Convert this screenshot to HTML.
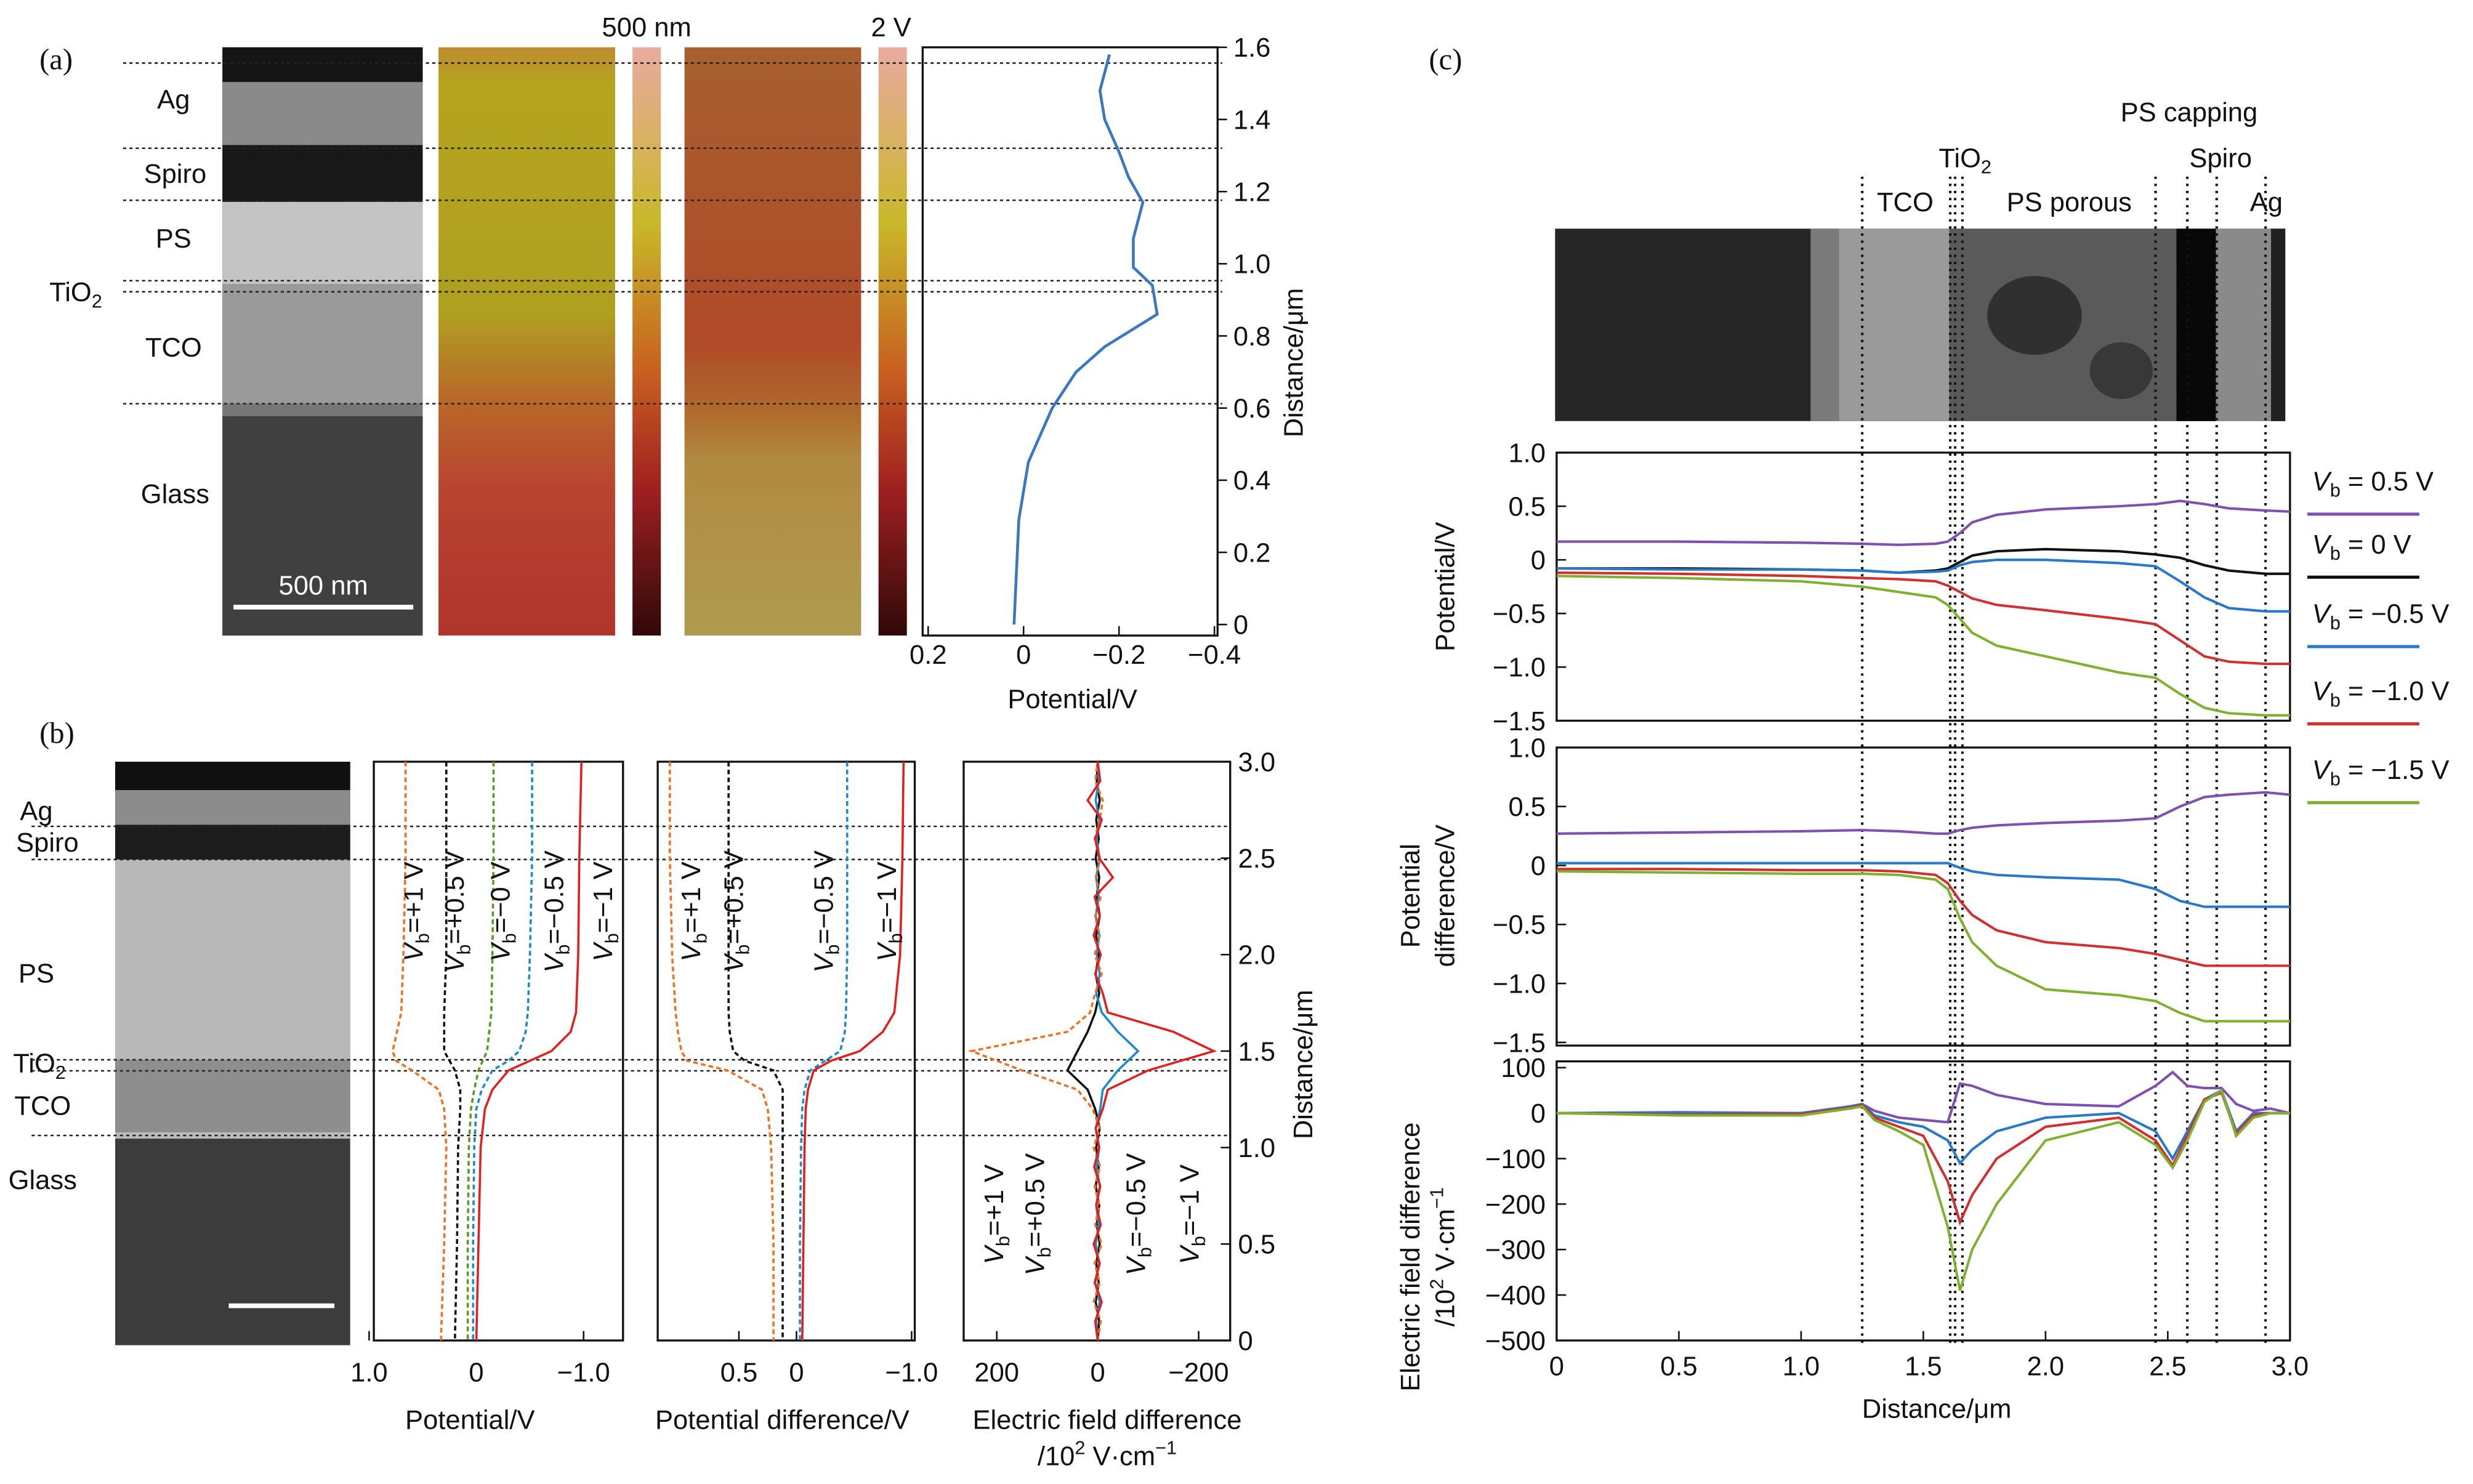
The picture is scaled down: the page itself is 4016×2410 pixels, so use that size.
<!DOCTYPE html>
<html><head><meta charset="utf-8"><style>
html,body{margin:0;padding:0;background:#fff}
svg{display:block}
text{font-family:"Liberation Sans",sans-serif;fill:#111}
.t{font-size:17px}
.s{font-family:"Liberation Serif",serif;font-size:19px}
</style></head><body>
<svg id="fig" xmlns="http://www.w3.org/2000/svg" width="4016" height="2410" viewBox="0 0 1568 941">
<defs>
<linearGradient id="k1" x1="0" y1="0" x2="0" y2="1"><stop offset="0" stop-color="#c08a30"/><stop offset="0.06" stop-color="#b4a41e"/><stop offset="0.45" stop-color="#b0a020"/><stop offset="0.6" stop-color="#b86828"/><stop offset="0.75" stop-color="#b84430"/><stop offset="1" stop-color="#b0342c"/></linearGradient>
<linearGradient id="k2" x1="0" y1="0" x2="0" y2="1"><stop offset="0" stop-color="#a86030"/><stop offset="0.5" stop-color="#b04a28"/><stop offset="0.62" stop-color="#b06a2c"/><stop offset="0.7" stop-color="#b08a40"/><stop offset="1" stop-color="#b09a50"/></linearGradient>
<linearGradient id="cb" x1="0" y1="0" x2="0" y2="1"><stop offset="0" stop-color="#eaaaa0"/><stop offset="0.3" stop-color="#c8b828"/><stop offset="0.55" stop-color="#c86020"/><stop offset="0.75" stop-color="#a02020"/><stop offset="1" stop-color="#300808"/></linearGradient>
</defs>
<g id="static">
<!-- panel a -->
<text class="s" x="25" y="44">(a)</text>
<g>
<rect x="141" y="30" width="127" height="373" fill="#3a3a3a"/>
<rect x="141" y="30" width="127" height="22" fill="#151515"/>
<rect x="141" y="52" width="127" height="40" fill="#8a8a8a"/>
<rect x="141" y="92" width="127" height="36" fill="#181818"/>
<rect x="141" y="128" width="127" height="52" fill="#c4c4c4"/>
<rect x="141" y="180" width="127" height="76" fill="#9a9a9a"/>
<rect x="141" y="256" width="127" height="8" fill="#777"/>
<rect x="141" y="264" width="127" height="139" fill="#404040"/>
<line x1="148" y1="385" x2="262" y2="385" stroke="#fff" stroke-width="3"/>
<text class="t" x="205" y="377" text-anchor="middle" style="fill:#fff">500 nm</text>
</g>
<rect x="278" y="30" width="112" height="373" fill="url(#k1)"/>
<rect x="401" y="30" width="18" height="373" fill="url(#cb)"/>
<rect x="434" y="30" width="112" height="373" fill="url(#k2)"/>
<rect x="557" y="30" width="18" height="373" fill="url(#cb)"/>
<text class="t" x="410" y="23" text-anchor="middle">500 nm</text>
<text class="t" x="565" y="23" text-anchor="middle">2 V</text>
<text class="t" x="110" y="69" text-anchor="middle">Ag</text>
<text class="t" x="111" y="116" text-anchor="middle">Spiro</text>
<text class="t" x="110" y="157" text-anchor="middle">PS</text>
<text class="t" x="48" y="191" text-anchor="middle">TiO<tspan font-size="12" dy="4">2</tspan></text>
<text class="t" x="110" y="226" text-anchor="middle">TCO</text>
<text class="t" x="111" y="319" text-anchor="middle">Glass</text>
<text class="t" x="826" y="230" text-anchor="middle" transform="rotate(-90 826 230)">Distance/μm</text>
<text class="t" x="680" y="449" text-anchor="middle">Potential/V</text>
<!-- panel b -->
<text class="s" x="25" y="471">(b)</text>
<g>
<rect x="73" y="483" width="149" height="370" fill="#3c3c3c"/>
<rect x="73" y="483" width="149" height="18" fill="#101010"/>
<rect x="73" y="501" width="149" height="22" fill="#8c8c8c"/>
<rect x="73" y="523" width="149" height="22" fill="#1c1c1c"/>
<rect x="73" y="545" width="149" height="127" fill="#b8b8b8"/>
<rect x="73" y="672" width="149" height="48" fill="#8e8e8e"/>
<rect x="73" y="718" width="149" height="4" fill="#bbb"/>
<line x1="145" y1="828" x2="212" y2="828" stroke="#fff" stroke-width="3"/>
</g>
<text class="t" x="23" y="520" text-anchor="middle">Ag</text>
<text class="t" x="30" y="540" text-anchor="middle">Spiro</text>
<text class="t" x="23" y="623" text-anchor="middle">PS</text>
<text class="t" x="25" y="680" text-anchor="middle">TiO<tspan font-size="12" dy="4">2</tspan></text>
<text class="t" x="27" y="707" text-anchor="middle">TCO</text>
<text class="t" x="27" y="754" text-anchor="middle">Glass</text>
<text class="t" x="298" y="906" text-anchor="middle">Potential/V</text>
<text class="t" x="496" y="906" text-anchor="middle">Potential difference/V</text>
<text class="t" x="702" y="906" text-anchor="middle">Electric field difference</text>
<text class="t" x="702" y="929" text-anchor="middle">/10<tspan font-size="12" dy="-7">2</tspan><tspan dy="7"> V·cm</tspan><tspan font-size="12" dy="-7">−1</tspan></text>
<text class="t" x="832" y="675" text-anchor="middle" transform="rotate(-90 832 675)">Distance/μm</text>
<!-- panel c -->
<text class="s" x="906" y="44">(c)</text>
<text class="t" x="1388" y="77" text-anchor="middle">PS capping</text>
<text class="t" x="1246" y="106" text-anchor="middle">TiO<tspan font-size="12" dy="4">2</tspan></text>
<text class="t" x="1408" y="106" text-anchor="middle">Spiro</text>
<text class="t" x="1208" y="134" text-anchor="middle">TCO</text>
<text class="t" x="1312" y="134" text-anchor="middle">PS porous</text>
<text class="t" x="1437" y="134" text-anchor="middle">Ag</text>
<g>
<rect x="986" y="145" width="463" height="122" fill="#262626"/>
<rect x="1148" y="145" width="18" height="122" fill="#7a7a7a"/>
<rect x="1166" y="145" width="70" height="122" fill="#9a9a9a"/>
<rect x="1236" y="145" width="144" height="122" fill="#5a5a5a"/>
<ellipse cx="1290" cy="200" rx="30" ry="25" fill="#303030"/>
<ellipse cx="1345" cy="235" rx="20" ry="18" fill="#383838"/>
<rect x="1380" y="145" width="25" height="122" fill="#080808"/>
<rect x="1405" y="145" width="35" height="122" fill="#8a8a8a"/>
<rect x="1440" y="145" width="9" height="122" fill="#202020"/>
</g>
<text class="t" x="922" y="372" text-anchor="middle" transform="rotate(-90 922 372)">Potential/V</text>
<text class="t" x="900" y="568" text-anchor="middle" transform="rotate(-90 900 568)">Potential</text>
<text class="t" x="922" y="568" text-anchor="middle" transform="rotate(-90 922 568)">difference/V</text>
<text class="t" x="900" y="797" text-anchor="middle" transform="rotate(-90 900 797)">Electric field difference</text>
<text class="t" x="922" y="797" text-anchor="middle" transform="rotate(-90 922 797)">/10<tspan font-size="12" dy="-7">2</tspan><tspan dy="7"> V·cm</tspan><tspan font-size="12" dy="-7">−1</tspan></text>
<text class="t" x="1228" y="899" text-anchor="middle">Distance/μm</text>
</g>
<g id="dyn"></g>
</svg>
<script>
// ---------- data ----------
const aDist = [0, 0.29, 0.45, 0.6, 0.7, 0.77, 0.86, 0.94, 0.99, 1.07, 1.17, 1.24, 1.31, 1.4, 1.48, 1.58];
const aPot = [0.02, 0.01, -0.01, -0.06, -0.11, -0.17, -0.28, -0.27, -0.23, -0.23, -0.25, -0.22, -0.2, -0.17, -0.16, -0.18];

const bDist = [3.0, 2.5, 2.0, 1.7, 1.6, 1.5, 1.45, 1.4, 1.3, 1.2, 1.0, 0.5, 0];
const b1Plus1 = [0.66, 0.66, 0.68, 0.7, 0.74, 0.78, 0.75, 0.6, 0.35, 0.3, 0.28, 0.3, 0.33];
const b1Plus05 = [0.28, 0.28, 0.28, 0.3, 0.3, 0.3, 0.25, 0.2, 0.15, 0.15, 0.17, 0.18, 0.2];
const b1Zero = [-0.16, -0.16, -0.15, -0.14, -0.12, -0.1, -0.06, -0.02, 0.02, 0.05, 0.07, 0.08, 0.08];
const b1Minus05 = [-0.52, -0.52, -0.5, -0.48, -0.46, -0.4, -0.3, -0.15, -0.05, 0, 0.02, 0.03, 0.03];
const b1Minus1 = [-0.98, -0.96, -0.95, -0.93, -0.88, -0.7, -0.5, -0.3, -0.15, -0.08, -0.04, -0.02, 0];
const b2Plus1 = [1.1, 1.1, 1.08, 1.05, 1.03, 1.0, 0.95, 0.6, 0.3, 0.25, 0.22, 0.2, 0.2];
const b2Plus05 = [0.59, 0.59, 0.59, 0.59, 0.58, 0.55, 0.45, 0.2, 0.12, 0.12, 0.12, 0.12, 0.12];
const b2Minus05 = [-0.44, -0.44, -0.44, -0.43, -0.42, -0.38, -0.25, -0.12, -0.07, -0.05, -0.04, -0.03, -0.03];
const b2Minus1 = [-0.93, -0.92, -0.9, -0.85, -0.75, -0.55, -0.3, -0.15, -0.1, -0.08, -0.07, -0.06, -0.05];

const b3Dist = [0,0.1,0.2,0.3,0.4,0.5,0.6,0.7,0.8,0.9,1.0,1.1,1.2,1.3,1.4,1.5,1.6,1.7,1.8,1.9,2.0,2.1,2.2,2.3,2.4,2.5,2.6,2.7,2.8,2.9,3.0];
const b3Red = [0,5,-8,6,-4,8,-6,3,-5,7,-3,4,-10,-20,-100,-230,-150,-20,-10,5,-6,8,-4,6,-30,-3,5,-8,20,-5,0];
const b3Orange = [0,-6,8,-4,6,-8,5,-3,6,-5,8,-4,10,40,150,250,60,15,5,-8,6,-4,5,-6,4,-5,6,-4,-10,5,0];
const b3Blue = [0,3,-4,5,-3,4,-2,3,-4,2,-3,4,-5,-10,-40,-80,-40,-8,3,-4,2,-3,4,-2,3,-4,2,-3,4,-2,0];
const b3Black = [0,-3,4,-2,3,-4,2,-3,4,-2,3,-4,5,20,60,40,20,5,-3,4,-2,3,-4,2,-3,4,-2,3,-4,2,0];

const cDist = [0, 0.5, 1.0, 1.25, 1.4, 1.55, 1.6, 1.65, 1.7, 1.8, 2.0, 2.3, 2.45, 2.55, 2.65, 2.75, 2.9, 3.0];
const c1Purple = [0.17, 0.17, 0.16, 0.15, 0.14, 0.15, 0.17, 0.25, 0.35, 0.42, 0.47, 0.5, 0.52, 0.55, 0.52, 0.48, 0.46, 0.45];
const c1Black = [-0.08, -0.08, -0.09, -0.1, -0.12, -0.1, -0.08, -0.02, 0.04, 0.08, 0.1, 0.08, 0.05, 0.02, -0.05, -0.1, -0.13, -0.13];
const c1Blue = [-0.08, -0.09, -0.09, -0.1, -0.12, -0.11, -0.1, -0.05, -0.02, 0, 0, -0.03, -0.06, -0.2, -0.35, -0.45, -0.48, -0.48];
const c1Red = [-0.12, -0.13, -0.15, -0.17, -0.18, -0.2, -0.24, -0.3, -0.36, -0.42, -0.47, -0.55, -0.6, -0.75, -0.9, -0.95, -0.97, -0.97];
const c1Green = [-0.15, -0.17, -0.2, -0.25, -0.3, -0.35, -0.42, -0.55, -0.68, -0.8, -0.9, -1.05, -1.1, -1.25, -1.38, -1.43, -1.45, -1.45];
const c2Purple = [0.27, 0.28, 0.29, 0.3, 0.29, 0.27, 0.27, 0.3, 0.32, 0.34, 0.36, 0.38, 0.4, 0.5, 0.58, 0.6, 0.62, 0.6];
const c2Blue = [0.02, 0.02, 0.02, 0.02, 0.02, 0.02, 0.02, -0.02, -0.05, -0.08, -0.1, -0.12, -0.2, -0.3, -0.35, -0.35, -0.35, -0.35];
const c2Red = [-0.03, -0.03, -0.04, -0.04, -0.05, -0.08, -0.15, -0.3, -0.42, -0.55, -0.65, -0.7, -0.75, -0.8, -0.85, -0.85, -0.85, -0.85];
const c2Green = [-0.05, -0.06, -0.07, -0.07, -0.08, -0.12, -0.2, -0.45, -0.65, -0.85, -1.05, -1.1, -1.15, -1.25, -1.32, -1.32, -1.32, -1.32];
const c3Dist = [0, 0.5, 1.0, 1.2, 1.25, 1.3, 1.4, 1.5, 1.6, 1.65, 1.7, 1.8, 2.0, 2.3, 2.45, 2.52, 2.58, 2.65, 2.72, 2.78, 2.85, 2.92, 3.0];
const c3Purple = [0, -2, 0, 10, 20, 5, -10, -15, -20, 65, 60, 40, 20, 15, 60, 90, 60, 55, 55, 20, 5, 10, 0];
const c3Blue = [0, 2, 0, 15, 20, -5, -20, -30, -60, -110, -80, -40, -10, 0, -40, -100, -40, 30, 50, -40, 0, 0, 0];
const c3Red = [0, -3, -2, 12, 18, -10, -30, -50, -150, -240, -180, -100, -30, -10, -60, -115, -50, 30, 45, -45, -5, 0, 0];
const c3Green = [0, -5, -5, 10, 15, -15, -40, -70, -250, -390, -300, -200, -60, -20, -70, -120, -60, 25, 50, -50, -10, 0, 0];
const cDividers = [1.25, 1.61, 1.63, 1.66, 2.45, 2.58, 2.7, 2.9];
const cXTicks = [0, 0.5, 1.0, 1.5, 2.0, 2.5, 3.0];
const c1YTicks = [1.0, 0.5, 0, -0.5, -1.0, -1.5];
const c2YTicks = [1.0, 0.5, 0, -0.5, -1.0, -1.5];
const c3YTicks = [100, 0, -100, -200, -300, -400, -500];
const bYTicks = [0, 0.5, 1.0, 1.5, 2.0, 2.5, 3.0];
const aYTicks = [0, 0.2, 0.4, 0.6, 0.8, 1.0, 1.2, 1.4, 1.6];
const aXTicks = [0.2, 0, -0.2, -0.4];

const NS = "http://www.w3.org/2000/svg";
const root = document.getElementById('dyn');
function el(tag, attrs, parent) {
  const e = document.createElementNS(NS, tag);
  for (const k in attrs) e.setAttribute(k, attrs[k]);
  (parent || root).appendChild(e);
  return e;
}
function lin(d0, d1, p0, p1) { return v => p0 + (v - d0) * (p1 - p0) / (d1 - d0); }
function fmt(v) { return (v < 0 ? '−' : '') + Math.abs(v).toString(); }
function fmt1(v) { return (v < 0 ? '−' : '') + Math.abs(v).toFixed(1); }
function series(xs, ys, fx, fy, color, dash, name, w) {
  const pts = xs.map((x, i) => fx(x, ys[i]) ).join(' ');
  const p = el('polyline', { points: pts, fill: 'none', stroke: color, 'stroke-width': w || 1.4 });
  if (dash) p.setAttribute('stroke-dasharray', dash);
  
  
  return p;
}
function txt(x, y, s, anchor, name) {
  const t = el('text', { x: x, y: y, class: 't', 'text-anchor': anchor || 'middle' });
  t.textContent = s;
  
  
  return t;
}
function hdash(y, x1, x2) {
  const l = el('line', { x1: x1, x2: x2, y1: y, y2: y, stroke: '#222', 'stroke-width': 1, 'stroke-dasharray': '2 2' });
  
  
}

// ---------- panel a ----------
const aX = lin(0, -0.4, 649, 770), aY = lin(0, 1.6, 396, 30);
const aBox = el('rect', { x: 585, y: 30, width: 187, height: 373, fill: 'none', stroke: '#111', 'stroke-width': 1.3 });


[40, 94, 127, 178, 185, 256].forEach(y => hdash(y, 78, 775));
aYTicks.forEach(v => {
  const y = aY(v);
  el('line', { x1: 772, x2: 778, y1: y, y2: y, stroke: '#111' });
  txt(782, y + 6, fmt1(v).replace('.0', v === 0 ? '' : '.0').replace(/^0$/, '0'), 'start', 'a-y-tick-label');
});
aXTicks.forEach(v => {
  const x = aX(v);
  el('line', { x1: x, x2: x, y1: 403, y2: 397, stroke: '#111' });
  txt(x, 421, v === 0 ? '0' : fmt1(v), 'middle', 'a-x-tick-label');
});
series(aPot, aDist, (p, d) => aX(p) + ',' + aY(d), (v) => v, '#3a78c0', null, 'a-potential-curve', 1.8);
// fix: series takes xs, ys; pass pot as xs
root.lastChild.remove();
series(aPot, aDist, (p, d) => aX(p) + ',' + aY(d), null, '#3a78c0', null, 'a-potential-curve', 1.8);

// ---------- panel b ----------
const bY = lin(0, 3.0, 850, 483);
[524, 545, 672, 679, 720].forEach(y => hdash(y, 20, 778));
const frames = [[237, 395], [417, 580], [611, 780]];
frames.forEach((f, i) => {
  const r = el('rect', { x: f[0], y: 483, width: f[1] - f[0], height: 367, fill: 'none', stroke: '#111', 'stroke-width': 1.3 });
  
  
});
bYTicks.forEach(v => {
  const y = bY(v);
  el('line', { x1: 780, x2: 774, y1: y, y2: y, stroke: '#111' });
  txt(785, y + 6, v === 0 ? '0' : v.toFixed(1), 'start', 'b-y-tick-label');
});
const b1X = lin(0, -1, 302, 370);
[1.0, 0, -1.0].forEach(v => { txt(b1X(v), 876, v === 0 ? '0' : fmt1(v), 'middle', 'b1-x-tick-label'); el('line', { x1: b1X(v), x2: b1X(v), y1: 850, y2: 844, stroke: '#111' }); });
const b2X = lin(0, -1, 505, 578);
[0.5, 0, -1.0].forEach(v => { txt(b2X(v), 876, v === 0 ? '0' : fmt1(v), 'middle', 'b2-x-tick-label'); el('line', { x1: b2X(v), x2: b2X(v), y1: 850, y2: 844, stroke: '#111' }); });
const b3X = lin(0, -200, 696, 760);
[200, 0, -200].forEach(v => { txt(b3X(v), 876, fmt(v), 'middle', 'b3-x-tick-label'); el('line', { x1: b3X(v), x2: b3X(v), y1: 850, y2: 844, stroke: '#111' }); });
const ORG = '#f07020', BLK = '#111', GRN = '#5a9a20', BLU = '#1a8ad0', RED = '#e02020';
series(b1Plus1, bDist, (v, d) => b1X(v) + ',' + bY(d), null, ORG, '3 2', 'b1-vb-plus1');
series(b1Plus05, bDist, (v, d) => b1X(v) + ',' + bY(d), null, BLK, '3 2', 'b1-vb-plus05');
series(b1Zero, bDist, (v, d) => b1X(v) + ',' + bY(d), null, GRN, '3 2', 'b1-vb-zero');
series(b1Minus05, bDist, (v, d) => b1X(v) + ',' + bY(d), null, BLU, '3 2', 'b1-vb-minus05');
series(b1Minus1, bDist, (v, d) => b1X(v) + ',' + bY(d), null, RED, null, 'b1-vb-minus1');
series(b2Plus1, bDist, (v, d) => b2X(v) + ',' + bY(d), null, ORG, '3 2', 'b2-vb-plus1');
series(b2Plus05, bDist, (v, d) => b2X(v) + ',' + bY(d), null, BLK, '3 2', 'b2-vb-plus05');
series(b2Minus05, bDist, (v, d) => b2X(v) + ',' + bY(d), null, BLU, '3 2', 'b2-vb-minus05');
series(b2Minus1, bDist, (v, d) => b2X(v) + ',' + bY(d), null, RED, null, 'b2-vb-minus1');
series(b3Black, b3Dist, (v, d) => b3X(v) + ',' + bY(d), null, BLK, null, 'b3-vb-plus05');
series(b3Blue, b3Dist, (v, d) => b3X(v) + ',' + bY(d), null, BLU, null, 'b3-vb-minus05');
series(b3Orange, b3Dist, (v, d) => b3X(v) + ',' + bY(d), null, ORG, '3 2', 'b3-vb-plus1');
series(b3Red, b3Dist, (v, d) => b3X(v) + ',' + bY(d), null, RED, null, 'b3-vb-minus1');
function vlabel(x, y, val, name) {
  const t = el('text', { x: x, y: y, class: 't', 'text-anchor': 'middle', transform: 'rotate(-90 ' + x + ' ' + y + ')' });
  t.innerHTML = '<tspan font-style="italic">V</tspan><tspan font-size="12" dy="4">b</tspan><tspan dy="-4">=' + val + ' V</tspan>';
  
  
}
vlabel(268, 578, '+1', 'label-vb-plus1'); vlabel(294, 578, '+0.5', 'label-vb-plus05'); vlabel(323, 578, '−0', 'label-vb-zero');
vlabel(357, 578, '−0.5', 'label-vb-minus05'); vlabel(388, 578, '−1', 'label-vb-minus1');
vlabel(444, 578, '+1', 'label-vb-plus1'); vlabel(471, 578, '+0.5', 'label-vb-plus05');
vlabel(528, 578, '−0.5', 'label-vb-minus05'); vlabel(568, 578, '−1', 'label-vb-minus1');
vlabel(636, 770, '+1', 'label-vb-plus1'); vlabel(662, 770, '+0.5', 'label-vb-plus05');
vlabel(726, 770, '−0.5', 'label-vb-minus05'); vlabel(760, 770, '−1', 'label-vb-minus1');

// ---------- panel c ----------
const cX = lin(0, 3.0, 987, 1452);
const c1Y = lin(1.0, -1.5, 287, 457);
const c2Y = lin(1.0, -1.5, 474, 661);
const c3Y = lin(100, -500, 677, 850);
[[287, 457, 'c1'], [474, 663, 'c2'], [673, 850, 'c3']].forEach(b => {
  const r = el('rect', { x: 987, y: b[0], width: 465, height: b[1] - b[0], fill: 'none', stroke: '#111', 'stroke-width': 1.3 });
  
  
});
cDividers.forEach(d => {
  const l = el('line', { x1: cX(d), x2: cX(d), y1: 112, y2: 852, stroke: '#111', 'stroke-width': 1.6, 'stroke-dasharray': '1.5 3' });
  
  
});
cXTicks.forEach(v => { txt(cX(v), 872, v === 0 ? '0' : v.toFixed(1), 'middle', 'c-x-tick-label'); el('line', { x1: cX(v), x2: cX(v), y1: 850, y2: 844, stroke: '#111' }); });
c1YTicks.forEach(v => { txt(980, c1Y(v) + 6, v === 0 ? '0' : fmt1(v), 'end', 'c1-y-tick-label'); el('line', { x1: 987, x2: 993, y1: c1Y(v), y2: c1Y(v), stroke: '#111' }); });
c2YTicks.forEach(v => { txt(980, c2Y(v) + 6, v === 0 ? '0' : fmt1(v), 'end', 'c2-y-tick-label'); el('line', { x1: 987, x2: 993, y1: c2Y(v), y2: c2Y(v), stroke: '#111' }); });
c3YTicks.forEach(v => { txt(980, c3Y(v) + 6, fmt(v), 'end', 'c3-y-tick-label'); el('line', { x1: 987, x2: 993, y1: c3Y(v), y2: c3Y(v), stroke: '#111' }); });
const PUR = '#8050b0', CBL = '#2a78c8', CRD = '#d03030', CGR = '#80b030';
series(c1Purple, cDist, (v, d) => cX(d) + ',' + c1Y(v), null, PUR, null, 'c1-vb-0.5', 1.6);
series(c1Black, cDist, (v, d) => cX(d) + ',' + c1Y(v), null, '#111', null, 'c1-vb-0', 1.6);
series(c1Blue, cDist, (v, d) => cX(d) + ',' + c1Y(v), null, CBL, null, 'c1-vb-minus0.5', 1.6);
series(c1Red, cDist, (v, d) => cX(d) + ',' + c1Y(v), null, CRD, null, 'c1-vb-minus1.0', 1.6);
series(c1Green, cDist, (v, d) => cX(d) + ',' + c1Y(v), null, CGR, null, 'c1-vb-minus1.5', 1.6);
series(c2Purple, cDist, (v, d) => cX(d) + ',' + c2Y(v), null, PUR, null, 'c2-vb-0.5', 1.6);
series(c2Blue, cDist, (v, d) => cX(d) + ',' + c2Y(v), null, CBL, null, 'c2-vb-minus0.5', 1.6);
series(c2Red, cDist, (v, d) => cX(d) + ',' + c2Y(v), null, CRD, null, 'c2-vb-minus1.0', 1.6);
series(c2Green, cDist, (v, d) => cX(d) + ',' + c2Y(v), null, CGR, null, 'c2-vb-minus1.5', 1.6);
series(c3Purple, c3Dist, (v, d) => cX(d) + ',' + c3Y(v), null, PUR, null, 'c3-vb-0.5', 1.6);
series(c3Blue, c3Dist, (v, d) => cX(d) + ',' + c3Y(v), null, CBL, null, 'c3-vb-minus0.5', 1.6);
series(c3Red, c3Dist, (v, d) => cX(d) + ',' + c3Y(v), null, CRD, null, 'c3-vb-minus1.0', 1.6);
series(c3Green, c3Dist, (v, d) => cX(d) + ',' + c3Y(v), null, CGR, null, 'c3-vb-minus1.5', 1.6);
// legend
[['0.5', 311, PUR], ['0', 351, '#111'], ['−0.5', 395, CBL], ['−1.0', 444, CRD], ['−1.5', 494, CGR]].forEach(L => {
  const t = el('text', { x: 1466, y: L[1], class: 't' });
  t.innerHTML = '<tspan font-style="italic">V</tspan><tspan font-size="12" dy="4">b</tspan><tspan dy="-4"> = ' + L[0] + ' V</tspan>';
  
  
  const l = el('line', { x1: 1463, x2: 1534, y1: L[1] + 15, y2: L[1] + 15, stroke: L[2], 'stroke-width': 2 });
  
  
});
</script>
</body></html>
